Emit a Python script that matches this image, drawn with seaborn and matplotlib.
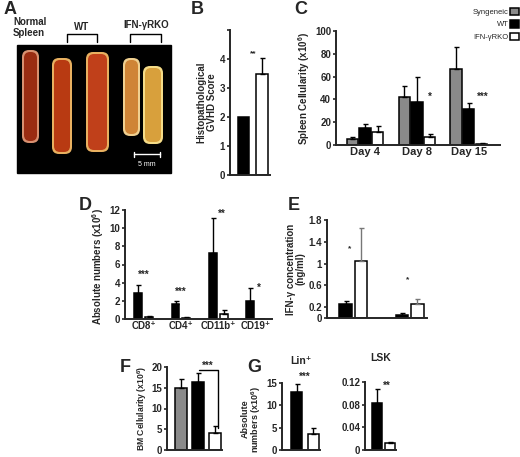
import numpy as np
import pandas as pd
import matplotlib
matplotlib.use("Agg")
import matplotlib.pyplot as plt
import seaborn as sns
from matplotlib.patches import FancyBboxPatch, Rectangle, Patch

# ---------------- data ----------------
B_groups = ["WT", "IFN-γRKO"]
B_vals = [2.0, 3.5]
B_err = [0.0, 0.55]

C_days = ["Day 4", "Day 8", "Day 15"]
C_groups = ["Syngeneic", "WT", "IFN-γRKO"]
C_syn = [5.5, 42, 67]
C_syn_err = [1.5, 10, 19]
C_wt = [15, 38, 32]
C_wt_err = [3, 22, 5]
C_ko = [11.5, 7, 1]
C_ko_err = [5.5, 3, 0.6]

D_cells = ["CD8⁺", "CD4⁺", "CD11b⁺", "CD19⁺"]
D_wt = [2.9, 1.7, 7.3, 2.0]
D_wt_err = [0.8, 0.3, 3.8, 1.4]
D_ko = [0.2, 0.15, 0.5, 0.02]
D_ko_err = [0.1, 0.1, 0.5, 0.0]

E_sets = ["Set 1", "Set 2"]
E_wt = [0.25, 0.06]
E_wt_err = [0.07, 0.04]
E_ko = [1.04, 0.26]
E_ko_err = [0.61, 0.08]

F_groups = ["Syngeneic", "WT", "IFN-γRKO"]
F_vals = [15.0, 16.5, 4.2]
F_err = [2.0, 2.0, 1.5]

G_lin_vals = [13.0, 3.5]
G_lin_err = [1.7, 1.5]
G_lsk_vals = [0.083, 0.012]
G_lsk_err = [0.025, 0.002]

# ---------------- style ----------------
sns.set_style("ticks")
plt.rcParams["font.family"] = ["Liberation Sans", "DejaVu Sans"]
plt.rcParams["font.weight"] = "bold"
plt.rcParams["axes.labelweight"] = "bold"
plt.rcParams["mathtext.fontset"] = "custom"
plt.rcParams["mathtext.bf"] = "Liberation Sans:bold"
plt.rcParams["mathtext.rm"] = "Liberation Sans:bold"
plt.rcParams["mathtext.default"] = "bf"
plt.rcParams["axes.linewidth"] = 1.4
plt.rcParams["xtick.major.width"] = 1.2
plt.rcParams["ytick.major.width"] = 1.2
plt.rcParams["xtick.major.size"] = 2.5
plt.rcParams["ytick.major.size"] = 2.5
plt.rcParams["xtick.labelsize"] = 7
plt.rcParams["ytick.labelsize"] = 7
plt.rcParams["axes.labelsize"] = 7

SUP6 = r"(x10$^{6}$)"

W, H = 520, 457
fig = plt.figure(figsize=(W / 100, H / 100), dpi=100)

def add_ax(l, t, r, b):
    return fig.add_axes([l / W, 1 - b / H, (r - l) / W, (b - t) / H])

GRAY, BLACK, WHITE = "#8a8a8a", "#000000", "#ffffff"
pal = {"Syngeneic": GRAY, "WT": BLACK, "IFN-γRKO": WHITE}

def style_ax(ax):
    sns.despine(ax=ax)
    ax.set_xlabel("")
    ax.tick_params(axis="x", length=0, pad=1.5)
    ax.tick_params(axis="y", pad=1)
    for lab in ax.get_yticklabels() + ax.get_xticklabels():
        lab.set_fontweight("bold")

def add_err(ax, container, errs, color="black"):
    xs = [p.get_x() + p.get_width() / 2 for p in container.patches]
    hs = [p.get_height() for p in container.patches]
    for x, h, e in zip(xs, hs, errs):
        if e > 0:
            ax.errorbar([x], [h], yerr=[[0], [e]], fmt="none", ecolor=color,
                        elinewidth=1.0, capsize=1.8, capthick=1.0, zorder=1)

# ---------------- overlay (figure pixel coordinates) ----------------
ov = fig.add_axes([0, 0, 1, 1])
ov.set_xlim(0, W)
ov.set_ylim(H, 0)
ov.axis("off")

# panel letters
for letter, (x, y) in {"A": (4, 9), "B": (191, 9), "C": (294, 9), "D": (79, 205),
                       "E": (288, 206), "F": (120, 367), "G": (247, 367)}.items():
    ov.text(x, y, letter, fontsize=13, fontweight="bold", va="center", ha="left")

# Panel A: photograph-like drawing
ov.add_patch(Rectangle((17, 45), 154, 128, color="black"))
spleens = [((22, 50, 17, 93), "#9a2c12", "#d89070"),
           ((52, 58, 20, 96), "#b83a12", "#e8b060"),
           ((86, 52, 23, 100), "#c0401a", "#e8b060"),
           ((123, 58, 17, 78), "#cf8436", "#f0d090"),
           ((143, 66, 20, 78), "#d8a03c", "#f5dc88")]
for (x, y, w, h), c, edge in spleens:
    ov.add_patch(FancyBboxPatch((x + 2, y + 2), w - 4, h - 4,
                                boxstyle="round,pad=2,rounding_size=7",
                                fc=edge, ec="none"))
    ov.add_patch(FancyBboxPatch((x + 3.5, y + 3.5), w - 7, h - 7,
                                boxstyle="round,pad=1.5,rounding_size=6",
                                fc=c, ec="none"))
ov.plot([134, 160], [154, 154], color="white", lw=1)
ov.plot([134, 134], [151.5, 156.5], color="white", lw=1)
ov.plot([160, 160], [151.5, 156.5], color="white", lw=1)
ov.text(147, 164, "5 mm", color="white", fontsize=5, ha="center", va="center",
        fontweight="normal")
ov.text(13, 22, "Normal", fontsize=7, fontweight="bold", va="center")
ov.text(13, 33, "Spleen", fontsize=7, fontweight="bold", va="center")
ov.text(82, 27, "WT", fontsize=7, fontweight="bold", va="center", ha="center")
ov.text(146, 25, "IFN-γRKO", fontsize=7, fontweight="bold", va="center", ha="center")
for x0, x1 in [(67, 97), (130, 161)]:
    ov.plot([x0, x0, x1, x1], [42, 34, 34, 42], color="black", lw=1)

# ---------------- Panel B ----------------
axB = add_ax(230, 30, 270, 175)
dfB = pd.DataFrame({"group": B_groups, "value": B_vals})
sns.barplot(data=dfB, x="group", y="value", hue="group", palette=pal,
            edgecolor="black", linewidth=1.1, width=0.6, legend=False, ax=axB)
add_err(axB, axB.containers[1], [B_err[1]])
axB.set_xlim(-0.73, 1.43)
axB.set_ylim(0, 5)
axB.set_yticks([0, 1, 2, 3, 4, 5])
axB.set_yticklabels(["0", "1", "2", "3", "4", ""])
axB.set_xticks([])
axB.set_ylabel("Histopathological\nGVHD Score", labelpad=2, linespacing=1.0)
style_ax(axB)
axB.text(0.5, 4.05, "**", ha="center", va="bottom", fontsize=6)

# ---------------- Panel C ----------------
axC = add_ax(336, 31, 500, 145)
dfC = pd.DataFrame({
    "day": C_days * 3,
    "group": np.repeat(C_groups, 3),
    "value": C_syn + C_wt + C_ko,
})
sns.barplot(data=dfC, x="day", y="value", hue="group", hue_order=C_groups,
            palette=pal, edgecolor="black", linewidth=1.1, width=0.74, gap=0.12,
            legend=False, ax=axC)
for cont, errs in zip(axC.containers, [C_syn_err, C_wt_err, C_ko_err]):
    add_err(axC, cont, errs)
axC.set_xlim(-0.56, 2.6)
axC.set_ylim(0, 100)
axC.set_yticks([0, 20, 40, 60, 80, 100])
axC.set_ylabel("Spleen Cellularity " + SUP6, labelpad=2)
style_ax(axC)
for lab in axC.get_xticklabels():
    lab.set_fontsize(8)
axC.text(1.25, 38, "*", ha="center", va="bottom", fontsize=7)
axC.text(2.27, 38, "***", ha="center", va="bottom", fontsize=7)
handles = [Patch(facecolor=pal[g], edgecolor="black", linewidth=1.1, label=g)
           for g in C_groups]
leg = fig.legend(handles=handles, loc="upper right", bbox_to_anchor=(1.0, 1 - 7 / H),
                 frameon=False, markerfirst=False, fontsize=5.5,
                 handlelength=1.2, handleheight=1.1, handletextpad=0.2,
                 labelspacing=0.55, borderpad=0.1, borderaxespad=0.0)
for t in leg.get_texts():
    t.set_fontweight("normal")

# ---------------- Panel D ----------------
axD = add_ax(125, 210, 272, 319)
dfD = pd.DataFrame({
    "cell": D_cells * 2,
    "group": np.repeat(["WT", "IFN-γRKO"], 4),
    "value": D_wt + D_ko,
})
sns.barplot(data=dfD, x="cell", y="value", hue="group", hue_order=["WT", "IFN-γRKO"],
            palette=pal, edgecolor="black", linewidth=1.1, width=0.58, gap=0.28,
            legend=False, ax=axD)
for cont, errs in zip(axD.containers, [D_wt_err, D_ko_err]):
    add_err(axD, cont, errs)
axD.set_xlim(-0.5, 3.44)
axD.set_ylim(0, 12)
axD.set_yticks([0, 2, 4, 6, 8, 10, 12])
axD.set_ylabel("Absolute numbers " + SUP6, labelpad=2)
style_ax(axD)
axD.yaxis.set_label_coords(-0.13, 0.48)
for lab in axD.get_xticklabels():
    lab.set_fontsize(7)
for x, y, s in [(0.0, 4.3, "***"), (1.0, 2.4, "***"), (2.1, 11.0, "**"), (3.1, 2.9, "*")]:
    axD.text(x, y, s, ha="center", va="bottom", fontsize=7)

# ---------------- Panel E ----------------
axE = add_ax(327, 220, 427, 318)
dfE = pd.DataFrame({
    "set": E_sets * 2,
    "group": np.repeat(["WT", "IFN-γRKO"], 2),
    "value": E_wt + E_ko,
})
sns.barplot(data=dfE, x="set", y="value", hue="group", hue_order=["WT", "IFN-γRKO"],
            palette=pal, edgecolor="black", linewidth=1.1, width=0.56, gap=0.22,
            legend=False, ax=axE)
add_err(axE, axE.containers[0], E_wt_err)
add_err(axE, axE.containers[1], E_ko_err, color="#777777")
axE.set_xlim(-0.47, 1.31)
axE.set_ylim(0, 1.8)
axE.set_yticks([0, 0.2, 0.6, 1.0, 1.4, 1.8])
axE.set_yticklabels(["0", "0.2", "0.6", "1", "1.4", "1.8"])
axE.set_xticks([])
axE.set_ylabel("IFN-γ concentration\n(ng/ml)", labelpad=2, linespacing=1.0)
style_ax(axE)
axE.text(-0.06, 1.2, "*", ha="center", va="bottom", fontsize=6)
axE.text(0.97, 0.63, "*", ha="center", va="bottom", fontsize=6)

# ---------------- Panel F ----------------
axF = add_ax(167, 367, 222, 450)
dfF = pd.DataFrame({"group": F_groups, "value": F_vals})
sns.barplot(data=dfF, x="group", y="value", hue="group", palette=pal,
            edgecolor="black", linewidth=1.1, width=0.7, legend=False, ax=axF)
for cont, e in zip(axF.containers, F_err):
    add_err(axF, cont, [e])
axF.set_xlim(-0.82, 2.41)
axF.set_ylim(0, 20)
axF.set_yticks([0, 5, 10, 15, 20])
axF.set_xticks([])
axF.set_ylabel("BM Cellularity " + SUP6, fontsize=6.2, labelpad=2)
style_ax(axF)
axF.yaxis.set_label_coords(-0.33, 0.5)
axF.plot([1.05, 2.2, 2.2], [19.3, 19.3, 5.2], color="black", lw=1, clip_on=False)
axF.text(1.6, 19.0, "***", ha="center", va="bottom", fontsize=7)

# ---------------- Panel G: Lin+ ----------------
axG1 = add_ax(282, 383, 320, 450)
dfG1 = pd.DataFrame({"group": ["WT", "IFN-γRKO"], "value": G_lin_vals})
sns.barplot(data=dfG1, x="group", y="value", hue="group", palette=pal,
            edgecolor="black", linewidth=1.1, width=0.67, legend=False, ax=axG1)
for cont, e in zip(axG1.containers, G_lin_err):
    add_err(axG1, cont, [e])
axG1.set_xlim(-0.88, 1.42)
axG1.set_ylim(0, 15)
axG1.set_yticks([0, 5, 10, 15])
axG1.set_xticks([])
axG1.set_ylabel("Absolute\nnumbers " + SUP6, fontsize=6.5, labelpad=2, linespacing=1.0)
style_ax(axG1)
axG1.yaxis.set_label_coords(-0.5, 0.46)
axG1.set_title("Lin⁺", fontsize=7.5, fontweight="bold", pad=14)
axG1.text(0.5, 15.2, "***", ha="center", va="bottom", fontsize=7, clip_on=False)

# ---------------- Panel G: LSK ----------------
axG2 = add_ax(365, 382, 396, 450)
dfG2 = pd.DataFrame({"group": ["WT", "IFN-γRKO"], "value": G_lsk_vals})
sns.barplot(data=dfG2, x="group", y="value", hue="group", palette=pal,
            edgecolor="black", linewidth=1.1, width=0.8, legend=False, ax=axG2)
for cont, e in zip(axG2.containers, G_lsk_err):
    add_err(axG2, cont, [e])
axG2.set_xlim(-0.96, 1.52)
axG2.set_ylim(0, 0.12)
axG2.set_yticks([0, 0.04, 0.08, 0.12])
axG2.set_yticklabels(["0", "0.04", "0.08", "0.12"])
axG2.set_xticks([])
axG2.set_ylabel("")
style_ax(axG2)
axG2.set_title("LSK", fontsize=7.5, fontweight="bold", pad=15)
axG2.text(0.75, 0.104, "**", ha="center", va="bottom", fontsize=7)

fig.savefig("out.png", dpi=100, facecolor="white")
